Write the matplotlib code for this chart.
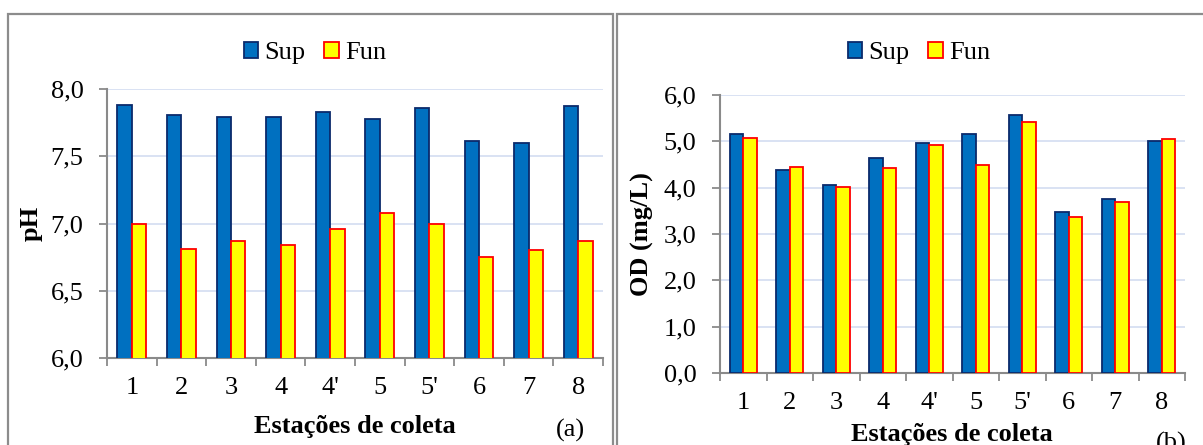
import matplotlib
matplotlib.use("Agg")
import matplotlib.pyplot as plt
from matplotlib.patches import Rectangle
import numpy as np

plt.rcParams['font.family'] = ['Liberation Serif', 'DejaVu Serif']

estacoes = ["1", "2", "3", "4", "4'", "5", "5'", "6", "7", "8"]
ph_sup = [7.88, 7.81, 7.79, 7.79, 7.83, 7.78, 7.86, 7.61, 7.60, 7.87]
ph_fun = [7.00, 6.81, 6.87, 6.84, 6.96, 7.08, 7.00, 6.75, 6.80, 6.87]
od_sup = [5.15, 4.38, 4.06, 4.64, 4.97, 5.15, 5.56, 3.47, 3.75, 5.00]
od_fun = [5.07, 4.44, 4.01, 4.42, 4.92, 4.49, 5.42, 3.36, 3.70, 5.04]
ph_ticks = [6.0, 6.5, 7.0, 7.5, 8.0]
od_ticks = [0.0, 1.0, 2.0, 3.0, 4.0, 5.0, 6.0]

W, H = 1203, 445
FS = 19
SUP_FACE, SUP_EDGE = '#0070C0', '#0B2A6B'
FUN_FACE, FUN_EDGE = '#FFFF00', '#FF0000'
GRID = '#D3DDF1'
SPINE = '#8A8A8A'

fig = plt.figure(figsize=(W / 100, H / 100), dpi=100)


def px_rect(x0, y0, x1, y1):
    """Axes rectangle given in pixel coordinates (origin top-left)."""
    return [x0 / W, 1 - y1 / H, (x1 - x0) / W, (y1 - y0) / H]


def fmt(v):
    return f"{v:.1f}".replace('.', ',')


def bar_panel(rect, sup, fun, ticks, ylim):
    ax = fig.add_axes(rect)
    n = len(estacoes)
    x = np.arange(n)
    w = 0.29
    ax.bar(x - w / 2, sup, w, bottom=0, color=SUP_FACE, edgecolor=SUP_EDGE,
           linewidth=1.3, label='Sup', zorder=3)
    ax.bar(x + w / 2, fun, w, color=FUN_FACE, edgecolor=FUN_EDGE,
           linewidth=1.3, label='Fun', zorder=3)
    ax.set_xlim(-0.5, n - 0.5)
    ax.set_ylim(*ylim)
    ax.set_yticks(ticks)
    ax.set_yticklabels([fmt(t) for t in ticks], fontsize=FS)
    ax.yaxis.grid(True, color=GRID, linewidth=1.2, zorder=0)
    ax.set_axisbelow(True)
    # category boundaries carry the tick marks, centres carry the labels
    ax.set_xticks(np.arange(n + 1) - 0.5)
    ax.set_xticklabels([])
    ax.set_xticks(x, minor=True)
    ax.set_xticklabels(estacoes, minor=True, fontsize=FS)
    ax.tick_params(axis='x', which='major', length=6, width=1.3, color=SPINE)
    ax.tick_params(axis='x', which='minor', length=0, pad=14)
    ax.tick_params(axis='y', length=6, width=1.3, color=SPINE, pad=11)
    for s in ('top', 'right'):
        ax.spines[s].set_visible(False)
    for s in ('left', 'bottom'):
        ax.spines[s].set_color(SPINE)
        ax.spines[s].set_linewidth(1.5)
    ax.set_facecolor('none')
    return ax


# outer frames around each panel
fig.patches.append(Rectangle((8 / W, -0.1), (613 - 8) / W, 1.1 - 14 / H,
                             transform=fig.transFigure, fill=False,
                             edgecolor='#8C8C8C', linewidth=1.6))
fig.patches.append(Rectangle((617 / W, -0.1), 0.6, 1.1 - 14 / H,
                             transform=fig.transFigure, fill=False,
                             edgecolor='#8C8C8C', linewidth=1.6))

ax1 = bar_panel(px_rect(107, 89, 603, 358), ph_sup, ph_fun, ph_ticks, (6.0, 8.0))
ax2 = bar_panel(px_rect(720, 95, 1185, 373), od_sup, od_fun, od_ticks, (0.0, 6.0))

for ax, cx in ((ax1, 315), (ax2, 919)):
    ax.legend(loc='center', bbox_to_anchor=(cx / W, 1 - 53 / H),
              bbox_transform=fig.transFigure, ncol=2, frameon=False,
              fontsize=FS, handlelength=0.55, handleheight=0.55,
              handletextpad=0.25, columnspacing=0.7, borderpad=0)

fig.text(31 / W, 1 - 223 / H, 'pH', rotation=90, ha='center', va='center',
         fontsize=FS, fontweight='bold')
fig.text(642 / W, 1 - 234 / H, 'OD (mg/L)', rotation=90, ha='center',
         va='center', fontsize=FS, fontweight='bold')
fig.text(355 / W, 1 - 433 / H, 'Estações de coleta', ha='center',
         va='baseline', fontsize=FS, fontweight='bold')
fig.text(952 / W, 1 - 441 / H, 'Estações de coleta', ha='center',
         va='baseline', fontsize=FS, fontweight='bold')
fig.text(570 / W, 1 - 437 / H, '(a)', ha='center', va='baseline', fontsize=FS)
fig.text(1171 / W, 1 - 450 / H, '(b)', ha='center', va='baseline', fontsize=FS)

fig.savefig('out.png', dpi=100, facecolor='white')
